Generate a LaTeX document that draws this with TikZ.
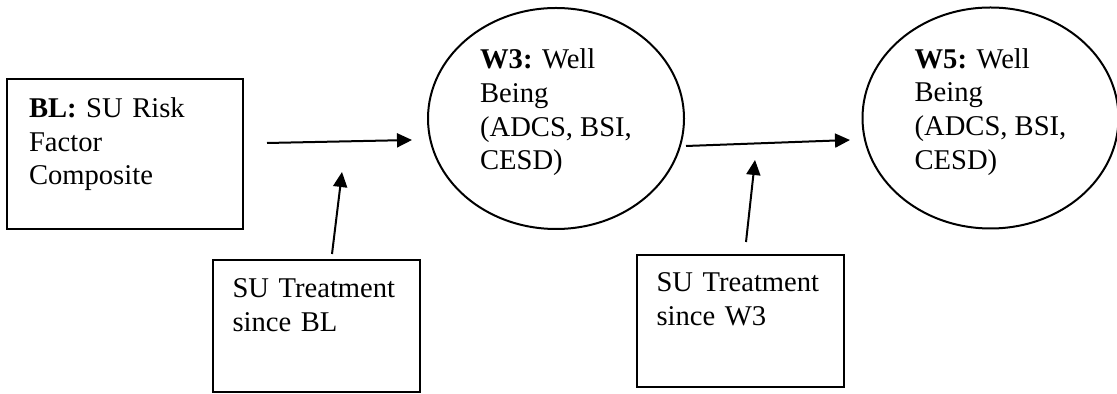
\documentclass[tikz,border=0pt]{standalone}
\usepackage{fontspec}
\setmainfont{Liberation Serif}
\usetikzlibrary{arrows.meta, shapes.geometric}

\begin{document}
\begin{tikzpicture}[x=0.5pt,y=-0.5pt,
  box/.style={draw,line width=1pt,inner sep=0pt,align=left,
              font=\fontsize{14.3}{16.9}\selectfont},
  wave/.style={ellipse,draw,line width=1pt,inner sep=0pt,align=left,
               minimum width=128pt,minimum height=110.5pt,text depth=9.2pt,
               font=\fontsize{14.3}{16.9}\selectfont},
  link/.style={->,line width=1pt},
  >={Triangle[length=7.5pt,width=7pt]}]
  \useasboundingbox (0,0) rectangle (1117,394);
  \node[box,minimum width=118pt,minimum height=75pt,text width=96pt,text depth=46.7pt] (BL) at (125,154)
    {\textbf{BL:} SU Risk\\Factor\\Composite};
  \node[wave] (W3) at (556,118.5) {\textbf{W3:} Well\\Being\\(ADCS, BSI,\\CESD)};
  \node[wave] (W5) at (990.5,118) {\textbf{W5:} Well\\Being\\(ADCS, BSI,\\CESD)};
  \node[box,minimum width=103.5pt,minimum height=66pt,text width=84pt,text depth=37.7pt] (T1) at (316.5,326)
    {SU Treatment\\since BL};
  \node[box,minimum width=103.5pt,minimum height=66pt,text width=84pt,text depth=38.7pt] (T2) at (740.5,321)
    {SU Treatment\\since W3};
  % arrow ends
  \coordinate (a1) at (267,143);
  \coordinate (b1) at (412,140);
  \coordinate (a2) at (686,146);
  \coordinate (b2) at (850,140);
  \coordinate (c1) at (332,254);
  \coordinate (d1) at (342,172);
  \coordinate (c2) at (746,242);
  \coordinate (d2) at (755,160);
  \draw[link] (a1) -- (b1);
  \draw[link] (a2) -- (b2);
  \draw[link] (c1) -- (d1);
  \draw[link] (c2) -- (d2);
\end{tikzpicture}
\end{document}
